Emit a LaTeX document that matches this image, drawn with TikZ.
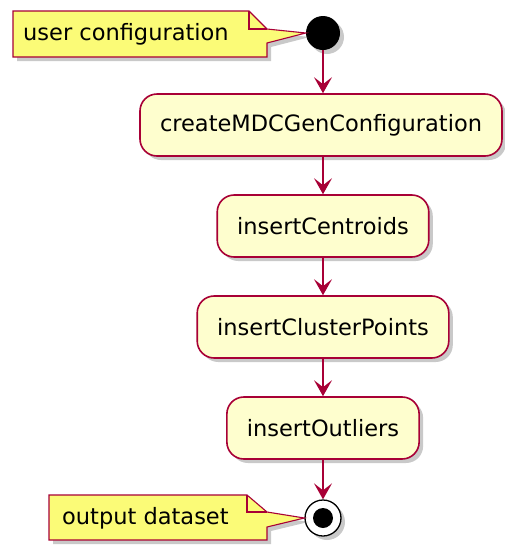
\documentclass[tikz,border=0pt]{standalone}
\usepackage{fontspec}
\setmainfont{DejaVu Sans}
\usetikzlibrary{arrows.meta,shadows}
\definecolor{umlred}{HTML}{A80036}
\definecolor{umlbeige}{HTML}{FEFECE}
\definecolor{umlnote}{HTML}{FBFB77}
\tikzset{
	umlshadow/.style={drop shadow={shadow xshift=4pt, shadow yshift=-4pt, opacity=0.3, fill=black!70}},
	action/.style={draw=umlred, fill=umlbeige, line width=1.6pt, rounded corners=17pt,
		minimum height=62pt, inner xsep=20pt, font=\fontsize{22.5}{27}\selectfont, umlshadow},
	flow/.style={umlred, line width=1.5pt, -{Stealth[length=16pt, width=18pt, inset=7pt]}},
	notebox/.style={draw=umlred, fill=umlnote, line width=1.1pt, umlshadow},
	notetext/.style={anchor=west, inner sep=0pt, font=\fontsize{22.5}{27}\selectfont},
}
\begin{document}
\begin{tikzpicture}[x=1pt, y=-1pt]
		\useasboundingbox (0, 0) rectangle (505, 547);
		\node [circle, fill=black, minimum size=34pt, inner sep=0pt, umlshadow] at (323, 33) (start) {};
		\node [action] at (321, 125) (create) {createMDCGenConfiguration};
		\node [action] at (323, 226) (centroids) {insertCentroids};
		\node [action] at (323, 327) (cluster) {insertClusterPoints};
		\node [action] at (323, 428) (outliers) {insertOutliers};
		\node [circle, draw=black, fill=white, line width=1.3pt, minimum size=36pt, inner sep=0pt, umlshadow] at (323, 518) (stop) {};
		\node [circle, fill=black, minimum size=20pt, inner sep=0pt] at (stop) (stopdot) {};
		% notes
		\draw [notebox] (13, 11) -- (249, 11) -- (267, 29) -- (start.west) -- (267, 43) -- (267, 57) -- (13, 57) -- cycle;
		\draw [umlred, line width=1.1pt] (249, 11) -- (249, 29) -- (267, 29);
		\node [notetext] at (23, 34) (usernote) {user configuration};
		\draw [notebox] (49, 495) -- (247, 495) -- (267, 512) -- (stop.west) -- (267, 527) -- (267, 540) -- (49, 540) -- cycle;
		\draw [umlred, line width=1.1pt] (247, 495) -- (247, 512) -- (267, 512);
		\node [notetext] at (62, 518) (outnote) {output dataset};
		% flow
		\draw [flow] (start) -- (start |- create.north);
		\draw [flow] (create.south -| centroids) -- (centroids);
		\draw [flow] (centroids) -- (cluster);
		\draw [flow] (cluster) -- (outliers);
		\draw [flow] (outliers) -- (stop);
	\end{tikzpicture}
\end{document}
